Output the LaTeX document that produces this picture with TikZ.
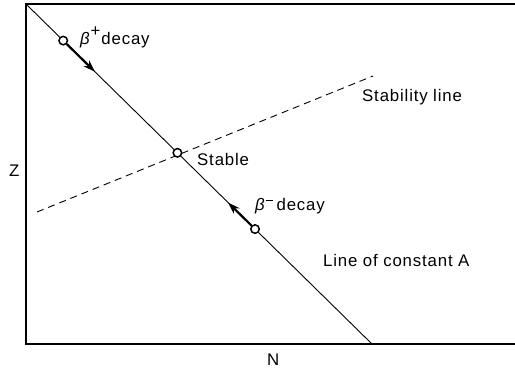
\documentclass[tikz,border=0pt]{standalone}
\usepackage{fontspec}
\setmainfont{Liberation Sans}[LetterSpace=5]
\usetikzlibrary{arrows.meta,calc}
\begin{document}
\begin{tikzpicture}[x=1pt,y=-1pt,
  lbl/.style={anchor=base west,inner sep=0pt,font=\fontsize{16.8}{20}\selectfont},
  dot/.style={circle,draw,line width=1.5pt,fill=white,minimum size=8.5pt,inner sep=0pt},
  frame/.style={line width=1.4pt},
  thin/.style={line width=0.9pt},
  decayarrow/.style={line width=2.2pt,-{Stealth[length=12pt,width=8pt]}}]
\useasboundingbox (0,0) rectangle (515,371);
% frame
\coordinate (tl) at (26,4);
\coordinate (tr) at (515,4);
\coordinate (bl) at (26,344);
\coordinate (br) at (515,344);
\draw[frame] (tr) -- (tl) -- (bl) -- (br);
% line of constant A
\coordinate (atop) at (27,5);
\coordinate (abot) at (372,344);
\draw[thin] (atop) -- (abot);
% stability line
\coordinate (sl) at (37,212);
\coordinate (sr) at (373,76);
\draw[thin,dash pattern=on 7pt off 5pt] (sl) -- (sr);
% points
\node[dot] (bp) at ($(atop)!0.105!(abot)$) {};
\node[dot] (st) at ($(atop)!0.436!(abot)$) {};
\node[dot] (bm) at ($(atop)!0.661!(abot)$) {};
\coordinate (bptip) at ($(atop)!0.197!(abot)$);
\coordinate (bmtip) at ($(atop)!0.583!(abot)$);
\draw[decayarrow] (bp) -- (bptip);
\draw[decayarrow] (bm) -- (bmtip);
% labels
\node[lbl] (lbp) at (80,45) {\textit{β}\raisebox{8pt}{+}\hspace{1pt}decay};
\node[lbl] (lst) at (197,166) {Stable};
\node[lbl] (lsl) at (362,102) {Stability line};
\node[lbl] (lbm) at (255,211) {\textit{β}\raisebox{10pt}{\rule{7pt}{1pt}}\hspace{4pt}decay};
\node[lbl] (lla) at (323,267) {Line of constant A};
\node[lbl] (lz) at (9,177) {Z};
\node[lbl] (ln) at (267,366) {N};
\end{tikzpicture}
\end{document}
